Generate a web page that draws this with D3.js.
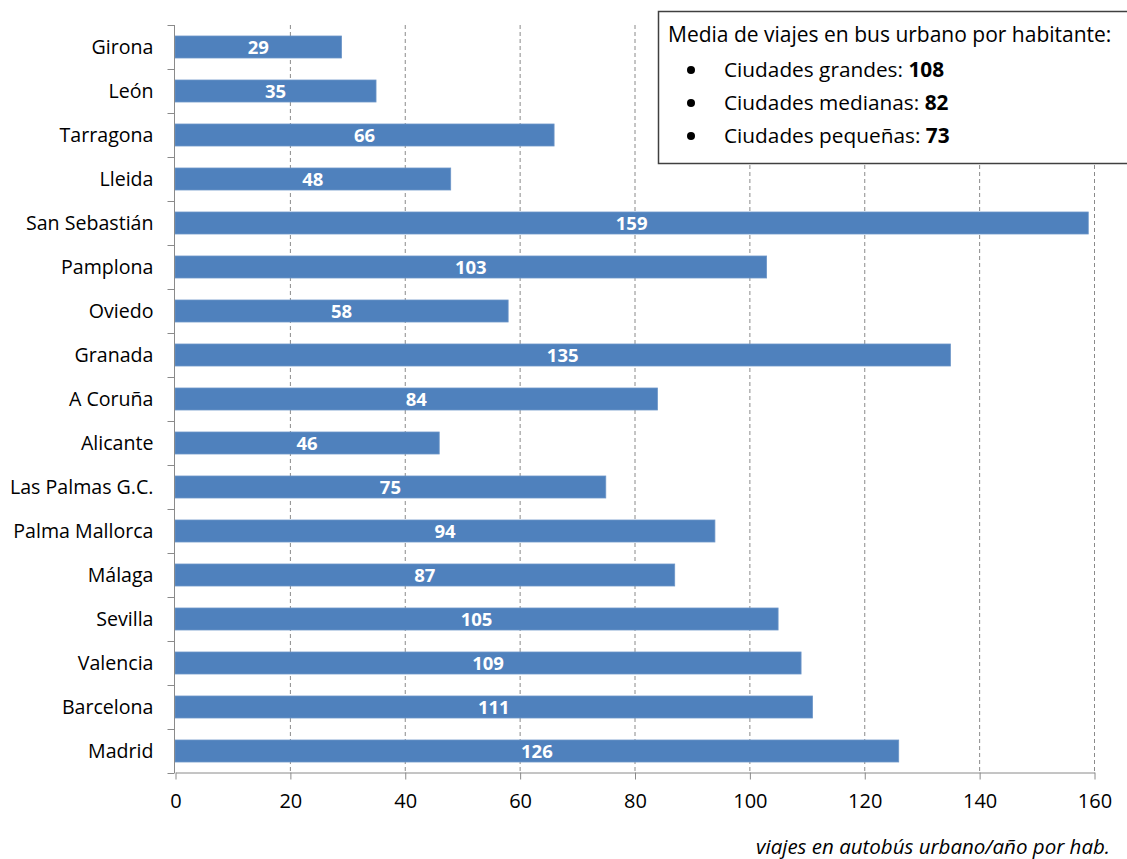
<!DOCTYPE html>
<html>
<head>
<meta charset="utf-8">
<script src="https://cdn.jsdelivr.net/npm/d3@7"></script>
<style>
  html, body { margin: 0; padding: 0; background: #fff; }
  svg { display: block; font-family: "Open Sans", "Noto Sans", sans-serif; }
</style>
</head>
<body>
<svg id="chart" width="1127" height="859"></svg>
<script>
// Urban bus trips per inhabitant and year, by city
const cities = ["Girona", "León", "Tarragona", "Lleida", "San Sebastián", "Pamplona", "Oviedo",
  "Granada", "A Coruña", "Alicante", "Las Palmas G.C.", "Palma Mallorca", "Málaga", "Sevilla",
  "Valencia", "Barcelona", "Madrid"];
const trips = [29, 35, 66, 48, 159, 103, 58, 135, 84, 46, 75, 94, 87, 105, 109, 111, 126];
const xTicks = [0, 20, 40, 60, 80, 100, 120, 140, 160];
const axisTitle = "viajes en autobús urbano/año por hab.";
const boxTitle = "Media de viajes en bus urbano por habitante:";
const groupNames = ["Ciudades grandes: ", "Ciudades medianas: ", "Ciudades pequeñas: "];
const groupMeans = [108, 82, 73];

const svg = d3.select("#chart");
const plotLeft = 175, plotRight = 1094, plotTop = 25, plotBottom = 773;

const x = d3.scaleLinear().domain([0, 160]).range([plotLeft, plotRight]);
const y = d3.scaleBand().domain(cities).range([plotTop, plotBottom]).paddingInner(0.5).paddingOuter(0.25);

// dashed vertical gridlines
svg.append("g").selectAll("line").data(xTicks.filter(d => d > 0)).join("line")
  .attr("x1", d => x(d) + 0.5).attr("x2", d => x(d) + 0.5)
  .attr("y1", plotTop).attr("y2", plotBottom)
  .attr("stroke", "#8a8a8a").attr("stroke-width", 1).attr("stroke-dasharray", "4,3");

// bars
svg.append("g").selectAll("rect").data(cities).join("rect")
  .attr("x", x(0))
  .attr("y", d => y(d))
  .attr("width", (d, i) => x(trips[i]) - x(0))
  .attr("height", y.bandwidth())
  .attr("fill", "#4f81bd")
  .attr("stroke", "#6d96c8").attr("stroke-width", 0.8);

// value labels inside bars
svg.append("g").selectAll("text").data(cities).join("text")
  .attr("x", (d, i) => (x(0) + x(trips[i])) / 2)
  .attr("y", d => y(d) + y.bandwidth() / 2)
  .attr("dy", "0.36em")
  .attr("text-anchor", "middle")
  .attr("fill", "#fff").attr("font-weight", "bold").attr("font-size", 18.5)
  .text((d, i) => trips[i]);

// x axis
const xAxis = d3.axisBottom(x).tickValues(xTicks).tickSize(7).tickPadding(14).tickSizeOuter(0);
const gx = svg.append("g").attr("transform", `translate(0.5,${plotBottom - 0.5})`).call(xAxis);
gx.select(".domain").attr("stroke", "#8a8a8a");
gx.selectAll(".tick line").attr("stroke", "#8a8a8a");
gx.selectAll(".tick text").attr("font-size", 20).attr("fill", "#000")
  .attr("font-family", "\"Open Sans\", sans-serif");

// y axis: ticks sit on category boundaries
const gy = svg.append("g").attr("transform", `translate(${plotLeft - 0.5},0)`);
gy.append("line").attr("x1", 0).attr("x2", 0).attr("y1", plotTop).attr("y2", plotBottom)
  .attr("stroke", "#8a8a8a");
const step = y.step();
gy.selectAll("line.tk").data(d3.range(cities.length + 1)).join("line").attr("class", "tk")
  .attr("x1", -7).attr("x2", 0)
  .attr("y1", i => plotTop + i * step + 0.5).attr("y2", i => plotTop + i * step + 0.5)
  .attr("stroke", "#8a8a8a");
gy.selectAll("text").data(cities).join("text")
  .attr("x", -21)
  .attr("y", d => y(d) + y.bandwidth() / 2)
  .attr("dy", "0.36em")
  .attr("text-anchor", "end")
  .attr("font-size", 19.6).attr("fill", "#000")
  .text(d => d);

// axis title
svg.append("text").attr("x", 1110).attr("y", 854)
  .attr("text-anchor", "end").attr("font-style", "italic").attr("font-size", 20.5)
  .text(axisTitle);

// summary box
svg.append("rect").attr("x", 658.5).attr("y", 11.5).attr("width", 480).attr("height", 152)
  .attr("fill", "#fff").attr("stroke", "#404040").attr("stroke-width", 1.5);
svg.append("text").attr("x", 668).attr("y", 42).attr("font-size", 21).text(boxTitle);
const items = svg.append("g");
groupNames.forEach((name, i) => {
  const yy = 77 + i * 33;
  items.append("circle").attr("cx", 691).attr("cy", yy - 7).attr("r", 4).attr("fill", "#000");
  const t = items.append("text").attr("x", 724).attr("y", yy).attr("font-size", 20.8);
  t.append("tspan").text(name);
  t.append("tspan").attr("font-weight", "bold").text(groupMeans[i]);
});
</script>
</body>
</html>
